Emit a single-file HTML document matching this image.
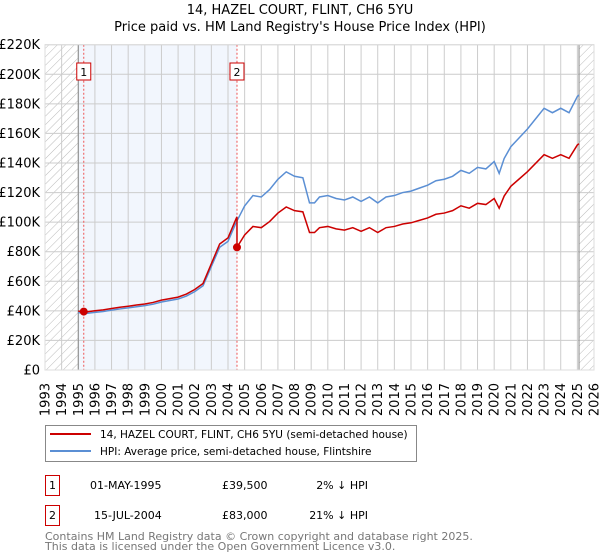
<!DOCTYPE html>
<html><head><meta charset="utf-8"><style>
body{margin:0;background:#fff;}
svg{display:block;font-family:"DejaVu Sans","Liberation Sans",sans-serif;}
</style></head><body>
<svg id="chart" width="600" height="560" viewBox="0 0 600 560" xmlns="http://www.w3.org/2000/svg">
<defs>
<pattern id="hatch" patternUnits="userSpaceOnUse" width="6" height="6" patternTransform="rotate(45)">
<line x1="0" y1="0" x2="0" y2="6" stroke="#bbb" stroke-width="1"/>
</pattern>
</defs>
<text x="300" y="14" text-anchor="middle" font-size="13">14, HAZEL COURT, FLINT, CH6 5YU</text>
<text x="300" y="31" text-anchor="middle" font-size="13">Price paid vs. HM Land Registry's House Price Index (HPI)</text>
<g id="plot"></g>
<g id="legend">
<rect x="45.5" y="425.5" width="371" height="36" fill="#fff" stroke="#888"/>
<line x1="50" y1="434" x2="91" y2="434" stroke="#cc0000" stroke-width="2"/>
<text x="100" y="438" font-size="10.5">14, HAZEL COURT, FLINT, CH6 5YU (semi-detached house)</text>
<line x1="50" y1="451" x2="91" y2="451" stroke="#5b8fd4" stroke-width="2"/>
<text x="100" y="455" font-size="10.5">HPI: Average price, semi-detached house, Flintshire</text>
</g>
<g font-size="11">
<rect x="45.5" y="475.5" width="14" height="20" fill="#fff" stroke="#cc0000"/>
<text x="52.5" y="489" text-anchor="middle">1</text>
<text x="90" y="489">01-MAY-1995</text>
<text x="222" y="489">£39,500</text>
<text x="368" y="489" text-anchor="end">2% ↓ HPI</text>
<rect x="45.5" y="505.5" width="14" height="20" fill="#fff" stroke="#cc0000"/>
<text x="52.5" y="519" text-anchor="middle">2</text>
<text x="94" y="519">15-JUL-2004</text>
<text x="222" y="519">£83,000</text>
<text x="368" y="519" text-anchor="end">21% ↓ HPI</text>
</g>
<text x="45" y="540" font-size="11" fill="#777">Contains HM Land Registry data © Crown copyright and database right 2025.</text>
<text x="45" y="550" font-size="11" fill="#777">This data is licensed under the Open Government Licence v3.0.</text>
</svg>
<script>
const hpiYears=[1995.0,1995.5,1996.0,1996.5,1997.0,1997.5,1998.0,1998.5,1999.0,1999.5,2000.0,2000.5,2001.0,2001.5,2002.0,2002.5,2003.0,2003.5,2004.0,2004.5,2005.0,2005.5,2006.0,2006.5,2007.0,2007.5,2008.0,2008.5,2008.9,2009.2,2009.5,2010.0,2010.5,2011.0,2011.5,2012.0,2012.5,2013.0,2013.5,2014.0,2014.5,2015.0,2015.5,2016.0,2016.5,2017.0,2017.5,2018.0,2018.5,2019.0,2019.5,2020.0,2020.3,2020.6,2021.0,2021.5,2022.0,2022.5,2023.0,2023.5,2024.0,2024.5,2025.0,2025.1];
const hpiValues=[38800,38300,39000,39600,40500,41300,42000,42800,43500,44500,46000,47000,48000,50000,53000,57000,70000,83000,87000,100000,111000,118000,117000,122000,129000,134000,131000,130000,113000,113000,117000,118000,116000,115000,117000,114000,117000,113000,117000,118000,120000,121000,123000,125000,128000,129000,131000,135000,133000,137000,136000,141000,133000,143000,151000,157000,163000,170000,177000,174000,177000,174000,185000,186000];
const saleYears=[1995.33,2004.54];
const salePrices=[39500,83000];
const yTicks=[0,20000,40000,60000,80000,100000,120000,140000,160000,180000,200000,220000];
const yTickLabels=["£0","£20K","£40K","£60K","£80K","£100K","£120K","£140K","£160K","£180K","£200K","£220K"];
const xTicks=[1993,1994,1995,1996,1997,1998,1999,2000,2001,2002,2003,2004,2005,2006,2007,2008,2009,2010,2011,2012,2013,2014,2015,2016,2017,2018,2019,2020,2021,2022,2023,2024,2025,2026];

const L=45,R=594,T=44.7,B=370,X0=1993,X1=2026,YMAX=220000;
const xs=v=>L+(v-X0)/(X1-X0)*(R-L);
const ys=v=>B-v/YMAX*(B-T);
const NS="http://www.w3.org/2000/svg";
const plot=document.getElementById('plot');
function mk(tag,attrs,parent){const e=document.createElementNS(NS,tag);for(const k in attrs)e.setAttribute(k,attrs[k]);(parent||plot).appendChild(e);return e;}
function hpiAt(t){for(let i=0;i<hpiYears.length-1;i++){if(t>=hpiYears[i]&&t<=hpiYears[i+1]){const f=(t-hpiYears[i])/(hpiYears[i+1]-hpiYears[i]);return hpiValues[i]+f*(hpiValues[i+1]-hpiValues[i]);}}return hpiValues[hpiValues.length-1];}

const shade=mk('rect',{x:xs(1995),y:T,width:xs(saleYears[1])-xs(1995),height:B-T,fill:'#f2f6fd'});


const h1=mk('rect',{x:L,y:T,width:xs(1995)-L,height:B-T,fill:'url(#hatch)'});


const h2=mk('rect',{x:xs(2025.1),y:T,width:R-xs(2025.1),height:B-T,fill:'url(#hatch)'});



yTicks.forEach((v,i)=>{
 const g=mk('line',{x1:L,x2:R,y1:ys(v),y2:ys(v),stroke:'#ccc','stroke-width':1});
 
 
 const t=mk('text',{x:40,y:ys(v)+4.5,'text-anchor':'end','font-size':13});
 
 
 t.textContent=yTickLabels[i];
});
xTicks.forEach(v=>{
 const g=mk('line',{x1:xs(v),x2:xs(v),y1:T,y2:B,stroke:'#ccc','stroke-width':1});
 
 
 const t=mk('text',{x:0,y:0,'text-anchor':'end','font-size':13,transform:`translate(${xs(v)+4.5},383) rotate(-90)`});
 
 
 t.textContent=v;
});
const e1=mk('line',{x1:xs(1995),x2:xs(1995),y1:T,y2:B,stroke:'#888'});


const e2=mk('line',{x1:xs(2025.1),x2:xs(2025.1),y1:T,y2:B,stroke:'#888'});



saleYears.forEach((s,i)=>{
 const l=mk('line',{x1:xs(s),x2:xs(s),y1:T,y2:B,stroke:'#ee5555','stroke-dasharray':'2,2'});
 
 
 const b=mk('rect',{x:xs(s)-7,y:63,width:14,height:17,fill:'#fff',stroke:'#cc0000'});
 
 
 const t=mk('text',{x:xs(s),y:76,'text-anchor':'middle','font-size':11});
 
 
 t.textContent=String(i+1);
});

const hp=mk('polyline',{points:hpiYears.map((t,i)=>xs(t)+','+ys(hpiValues[i])).join(' '),fill:'none',stroke:'#5b8fd4','stroke-width':1.5});



let pts=[];
const r0=salePrices[0]/hpiAt(saleYears[0]);
const r1=salePrices[1]/hpiAt(saleYears[1]);
hpiYears.forEach((t,i)=>{ if(t<saleYears[1]) pts.push(xs(t)+','+ys(hpiValues[i]*r0)); });
pts.push(xs(saleYears[1])+','+ys(hpiAt(saleYears[1])*r0));
pts.push(xs(saleYears[1])+','+ys(salePrices[1]));
hpiYears.forEach((t,i)=>{ if(t>saleYears[1]) pts.push(xs(t)+','+ys(hpiValues[i]*r1)); });
const pl=mk('polyline',{points:pts.join(' '),fill:'none',stroke:'#cc0000','stroke-width':1.5});


saleYears.forEach((s,i)=>{
 const c=mk('circle',{cx:xs(s),cy:ys(salePrices[i]),r:4,fill:'#cc0000'});
 
 
});
const fr=mk('rect',{x:L,y:T,width:R-L,height:B-T,fill:'none',stroke:'#ddd'});


</script>
</body></html>
